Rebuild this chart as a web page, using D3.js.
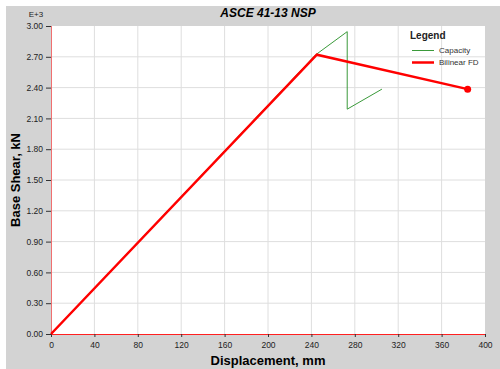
<!DOCTYPE html>
<html>
<head>
<meta charset="utf-8">
<script src="https://cdn.jsdelivr.net/npm/d3@7"></script>
<style>
  body { margin: 0; background: #fff; }
  text { font-family: "Liberation Sans", Arial, sans-serif; }
</style>
</head>
<body>
<div id="chart"></div>
<script>
//////////////////////// Data ////////////////////////
var capacityX = [0, 244, 273, 273, 305],
    capacityY = [0, 2.72, 2.945, 2.19, 2.385];

var bilinearX = [0, 245, 384],
    bilinearY = [0, 2.72, 2.385];

var xTicks = [0, 40, 80, 120, 160, 200, 240, 280, 320, 360, 400],
    yTicks = [0, 0.3, 0.6, 0.9, 1.2, 1.5, 1.8, 2.1, 2.4, 2.7, 3.0];

//////////////////////// Setup ////////////////////////
var width = 500, height = 369,
    margin = {left: 51, top: 26, right: 15, bottom: 35};

var svg = d3.select("#chart").append("svg")
    .attr("width", width)
    .attr("height", height);

//Grey panel behind everything
svg.append("rect")
    .attr("x", 6).attr("y", 6)
    .attr("width", width - 6).attr("height", height - 6)
    .style("fill", "#d3d3d3");

var x = d3.scaleLinear().domain([0, 400]).range([margin.left, width - margin.right]),
    y = d3.scaleLinear().domain([0, 3]).range([height - margin.bottom, margin.top]);

//Plot area
svg.append("rect")
    .attr("x", x(0)).attr("y", y(3))
    .attr("width", x(400) - x(0)).attr("height", y(0) - y(3))
    .style("fill", "#fff");

//Grid
svg.append("g").selectAll("line")
    .data(xTicks.slice(1, -1))
    .enter().append("line")
    .attr("x1", function(d) { return x(d); }).attr("x2", function(d) { return x(d); })
    .attr("y1", y(0)).attr("y2", y(3))
    .style("stroke", "#dedede");
svg.append("g").selectAll("line")
    .data(yTicks.slice(1, -1))
    .enter().append("line")
    .attr("x1", x(0)).attr("x2", x(400))
    .attr("y1", function(d) { return y(d); }).attr("y2", function(d) { return y(d); })
    .style("stroke", "#dedede");

//Axes
var xAxis = svg.append("g")
    .attr("transform", "translate(0," + y(0) + ")")
    .call(d3.axisBottom(x).tickValues(xTicks).tickSize(3).tickPadding(5).tickFormat(d3.format("d")));
var yAxis = svg.append("g")
    .attr("transform", "translate(" + x(0) + ",0)")
    .call(d3.axisLeft(y).tickValues(yTicks).tickSize(5).tickPadding(3).tickFormat(d3.format(".2f")));

[xAxis, yAxis].forEach(function(a) {
    a.selectAll("text").style("font-size", "8.5px").style("fill", "#222")
        .style("font-family", "'Liberation Sans', Arial, sans-serif");
    a.selectAll(".tick line").style("stroke", "#333");
});
xAxis.select(".domain").style("stroke", "#ff2020").attr("d", "M" + x(0) + ",0.5H" + x(400));
yAxis.select(".domain").style("stroke", "#f07070").attr("d", "M0.5," + y(0) + "V" + y(3));

//Lines
var line = d3.line()
    .x(function(d) { return x(d[0]); })
    .y(function(d) { return y(d[1]); });

svg.append("path")
    .datum(d3.zip(capacityX, capacityY))
    .attr("d", line)
    .style("fill", "none").style("stroke", "#3a9a3a").style("stroke-width", 1);

svg.append("path")
    .datum(d3.zip(bilinearX, bilinearY))
    .attr("d", line)
    .style("fill", "none").style("stroke", "#ff0000").style("stroke-width", 2.5);

svg.append("circle")
    .attr("cx", x(bilinearX[bilinearX.length - 1]))
    .attr("cy", y(bilinearY[bilinearY.length - 1]))
    .attr("r", 3.5)
    .style("fill", "#ff0000");

//Titles
svg.append("text")
    .attr("x", (x(0) + x(400)) / 2).attr("y", 17)
    .style("text-anchor", "middle")
    .style("font-size", "12px").style("font-weight", "bold").style("font-style", "italic")
    .text("ASCE 41-13 NSP");

svg.append("text")
    .attr("x", 36).attr("y", 17)
    .style("text-anchor", "middle").style("font-size", "8px").style("fill", "#222")
    .text("E+3");

svg.append("text")
    .attr("x", (x(0) + x(400)) / 2).attr("y", 365)
    .style("text-anchor", "middle")
    .style("font-size", "13px").style("font-weight", "bold")
    .text("Displacement, mm");

svg.append("text")
    .attr("transform", "translate(20," + ((y(0) + y(3)) / 2) + ") rotate(-90)")
    .style("text-anchor", "middle")
    .style("font-size", "13px").style("font-weight", "bold")
    .text("Base Shear, kN");

//Legend
var legendItems = [
    {name: "Capacity", color: "#3a9a3a", w: 1},
    {name: "Bilinear FD", color: "#ff0000", w: 2.5}
];
svg.append("text")
    .attr("x", 410).attr("y", 39)
    .style("font-size", "10px").style("font-weight", "bold").style("fill", "#222")
    .text("Legend");
var legend = svg.selectAll(".legendItem")
    .data(legendItems)
    .enter().append("g")
    .attr("class", "legendItem")
    .attr("transform", function(d, i) { return "translate(412," + (50.5 + i * 12) + ")"; });
legend.append("line")
    .attr("x1", 0).attr("x2", 22)
    .style("stroke", function(d) { return d.color; })
    .style("stroke-width", function(d) { return d.w; });
legend.append("text")
    .attr("x", 27).attr("dy", "0.35em")
    .style("font-size", "8px").style("fill", "#333")
    .text(function(d) { return d.name; });
</script>
</body>
</html>
